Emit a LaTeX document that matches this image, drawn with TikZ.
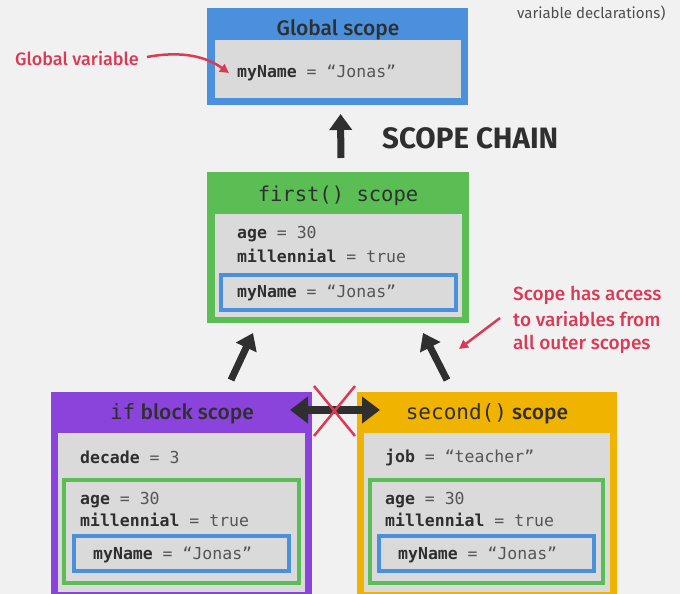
\documentclass[tikz,border=0pt]{standalone}
\usepackage{fontspec}
\usepackage{graphicx}
\setmainfont{Fira Sans}
\newfontfamily\medfont{Fira Sans Medium}
\newfontfamily\codefont{DejaVu Sans Mono}
\usetikzlibrary{arrows.meta}

\definecolor{bgc}{HTML}{F1F1F1}
\definecolor{cblue}{HTML}{4A90DC}
\definecolor{cgreen}{HTML}{5BBE55}
\definecolor{cpurple}{HTML}{8B44DB}
\definecolor{corange}{HTML}{F0B400}
\definecolor{cgray}{HTML}{DADADA}
\definecolor{cred}{HTML}{D93A55}
\definecolor{cdark}{HTML}{2F2F2F}
\definecolor{cval}{HTML}{555555}

\tikzset{
  scopebox/.style={draw=none, anchor=north west, inner sep=0pt, outer sep=0pt},
  graybox/.style={fill=cgray, anchor=north west, inner sep=0pt, outer sep=0pt},
  ringbox/.style={fill=cgray, draw=#1, line width=4pt, anchor=north west, inner sep=0pt, outer sep=0pt},
  title/.style={text=cdark, font=\medfont\fontsize{21}{25}\selectfont, inner sep=0pt},
  code/.style={anchor=west, inner sep=0pt, text=cval, font=\codefont\fontsize{16.5}{19}\selectfont},
  note/.style={anchor=west, inner sep=0pt, text=cred, font=\medfont\fontsize{18}{21}\selectfont},
  bigarrow/.style={draw=cdark, line width=7pt, -{Triangle[width=22pt,length=16pt]}},
  redarrow/.style={draw=cred, line width=2.5pt, -{Triangle[width=9pt,length=9pt]}},
}
\newcommand{\vname}[1]{\textbf{\textcolor{cdark}{#1}}}

\begin{document}
\begin{tikzpicture}[x=1pt,y=-1pt]
\useasboundingbox (0,0) rectangle (680,594);
\clip (0,0) rectangle (680,594);
\fill[bgc] (0,0) rectangle (680,594);

% top-right caption fragment
\node[anchor=west, inner sep=0pt, text=cdark!85, font=\fontsize{15}{17}\selectfont] (decl) at (517,13) {variable declarations)};

% ---------- global scope ----------
\node[scopebox, fill=cblue, minimum width=261pt, minimum height=97pt] (global) at (207,8) {};
\node[title] (globalT) at (338,30) {Global scope};
\node[graybox, minimum width=246pt, minimum height=58pt] (globalIn) at (215,40) {};
\node[code] (gName) at (237,73) {\vname{myName} = “Jonas”};

% red label for the global variable
\node[note] (gvar) at (15,58) {Global variable};
\coordinate (gvTip) at (229,73);
\draw[redarrow] (gvar.east) ++(8,-1) .. controls (185,50) and (208,58) .. (gvTip);

% scope chain arrow and caption
\node[scopebox, fill=cgreen, minimum width=262pt, minimum height=151pt] (first) at (207,172) {};
\draw[bigarrow, shorten <=14pt, shorten >=9pt] ([xshift=3pt]first.north) -- ([xshift=3pt]global.south);
\node[anchor=west, inner sep=0pt, text=cdark] (chain) at (382,138)
  {\resizebox{176pt}{!}{\fontsize{26}{30}\selectfont\bfseries SCOPE CHAIN}};

% ---------- first() scope ----------
\node[title, font=\codefont\fontsize{20.5}{24}\selectfont] (firstT) at (338,196) {first() scope};
\node[graybox, minimum width=247pt, minimum height=103pt] (firstIn) at (215,214) {};
\node[code] (fAge) at (237,234) {\vname{age} = 30};
\node[code] (fMil) at (237,256) {\vname{millennial} = true};
\node[ringbox=cblue, minimum width=235pt, minimum height=35pt] (fBlue) at (221,275) {};
\node[code] (fName) at (237,293) {\vname{myName} = “Jonas”};

% access note
\node[note, font=\medfont\fontsize{19}{22}\selectfont] (acc1) at (513,295) {Scope has access};
\node[note, font=\medfont\fontsize{19}{22}\selectfont] (acc2) at (513,319) {to variables from};
\node[note, font=\medfont\fontsize{19}{22}\selectfont] (acc3) at (513,344) {all outer scopes};
\coordinate (accTail) at (500,318);
\coordinate (accTip) at (459,349);
\draw[redarrow] (accTail) -- (accTip);

% ---------- if block scope ----------
\node[scopebox, fill=cpurple, minimum width=261pt, minimum height=210pt] (ifb) at (51,392) {};
\node[title] (ifT) at (182,414) {{\codefont if} block scope};
\node[graybox, minimum width=247pt, minimum height=159pt] (ifIn) at (58,433) {};
\node[code] (iDec) at (80,457) {\vname{decade} = 3};
\node[ringbox=cgreen, minimum width=235pt, minimum height=103pt] (ifGreen) at (64,480) {};
\node[code] (iAge) at (80,500) {\vname{age} = 30};
\node[code] (iMil) at (80,520) {\vname{millennial} = true};
\node[ringbox=cblue, minimum width=215pt, minimum height=35pt] (ifBlue) at (74,536) {};
\node[code] (iName) at (93,555) {\vname{myName} = “Jonas”};

% ---------- second() scope ----------
\node[scopebox, fill=corange, minimum width=260pt, minimum height=210pt] (second) at (357,392) {};
\node[title] (secT) at (487,414) {{\codefont second()} scope};
\node[graybox, minimum width=246pt, minimum height=159pt] (secIn) at (364,433) {};
\node[code] (sJob) at (385,457) {\vname{job} = “teacher”};
\node[ringbox=cgreen, minimum width=233pt, minimum height=103pt] (secGreen) at (370,480) {};
\node[code] (sAge) at (385,500) {\vname{age} = 30};
\node[code] (sMil) at (385,520) {\vname{millennial} = true};
\node[ringbox=cblue, minimum width=215pt, minimum height=35pt] (secBlue) at (379,536) {};
\node[code] (sName) at (398,555) {\vname{myName} = “Jonas”};

% arrows from the inner scopes up to first()
\coordinate (ifTail) at (231,380);
\coordinate (ifTip) at (253,333);
\coordinate (secTail) at (447,380);
\coordinate (secTip) at (423,333);
\draw[bigarrow] (ifTail) -- (ifTip);
\draw[bigarrow] (secTail) -- (secTip);

% no access between sibling scopes
\coordinate (sibL) at (290,410);
\coordinate (sibR) at (380,410);
\draw[draw=cdark, line width=8pt, {Triangle[width=26pt,length=18pt]}-{Triangle[width=26pt,length=18pt]}] (sibL) -- (sibR);
\coordinate (xa) at (314,386);
\coordinate (xb) at (355,436);
\coordinate (xc) at (355,386);
\coordinate (xd) at (314,436);
\draw[cred, line width=2.5pt] (xa) -- (xb) (xc) -- (xd);
\end{tikzpicture}
\end{document}
